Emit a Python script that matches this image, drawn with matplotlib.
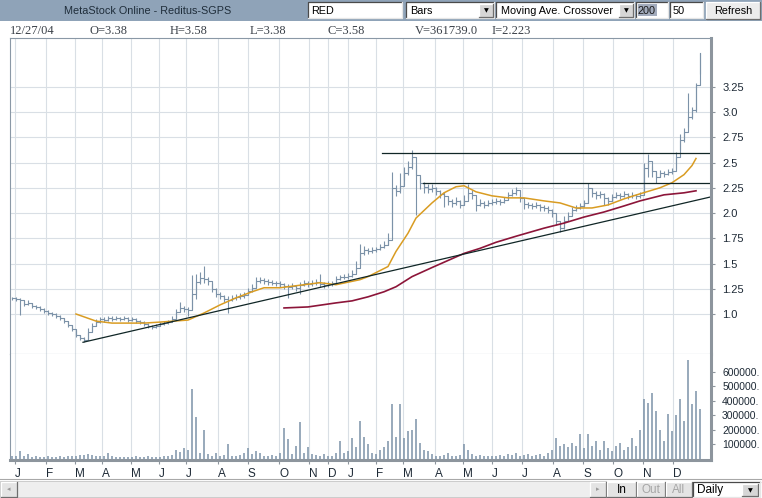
import matplotlib
matplotlib.use('Agg')
import matplotlib.pyplot as plt
from matplotlib.patches import Rectangle

plt.rcParams['font.family'] = ['Liberation Sans', 'DejaVu Sans']

W, H = 762, 498
BAR = '#7C92A8'
GRID = '#D9DFE5'
FRAME = '#8A98A6'
THICK = '#8D959D'
TXT = '#1E2A36'
ORANGE = '#D99C22'
MAROON = '#8C1539'
LINE = '#102626'
UI_FS = 7.8

# daily bars, one sample about every 3 trading days (Jan 2003 - Dec 2004)
close = [
    1.16, 1.15, 1.14, 1.10, 1.11, 1.08, 1.07, 1.05, 1.03, 1.01,
    1.00, 0.98, 0.96, 0.93, 0.89, 0.85, 0.79, 0.76, 0.74, 0.82,
    0.88, 0.92, 0.95, 0.94, 0.96, 0.95, 0.96, 0.95, 0.96, 0.94,
    0.95, 0.93, 0.92, 0.90, 0.88, 0.87, 0.88, 0.90, 0.91, 0.92,
    0.95, 1.02, 1.06, 1.05, 1.04, 1.20, 1.32, 1.36, 1.35, 1.33,
    1.25, 1.20, 1.18, 1.15, 1.14, 1.16, 1.17, 1.18, 1.19, 1.23,
    1.26, 1.33, 1.34, 1.33, 1.32, 1.31, 1.31, 1.30, 1.28, 1.27,
    1.28, 1.26, 1.29, 1.31, 1.30, 1.31, 1.32, 1.30, 1.29, 1.30,
    1.31, 1.35, 1.37, 1.37, 1.38, 1.40, 1.46, 1.60, 1.63, 1.62,
    1.63, 1.64, 1.66, 1.68, 1.73, 2.25, 2.22, 2.27, 2.40, 2.46,
    2.55, 2.38, 2.30, 2.26, 2.24, 2.25, 2.22, 2.19, 2.17, 2.12,
    2.10, 2.12, 2.08, 2.12, 2.20, 2.18, 2.08, 2.10, 2.08, 2.10,
    2.11, 2.12, 2.11, 2.13, 2.18, 2.20, 2.23, 2.15, 2.09, 2.08,
    2.07, 2.08, 2.06, 2.05, 2.03, 2.00, 1.92, 1.85, 1.92, 1.97,
    2.03, 2.05, 2.07, 2.10, 2.25, 2.20, 2.18, 2.19, 2.15, 2.12,
    2.16, 2.18, 2.17, 2.19, 2.17, 2.18, 2.17, 2.18, 2.45, 2.52,
    2.42, 2.36, 2.40, 2.39, 2.41, 2.42, 2.55, 2.72, 2.80, 2.95,
    3.02, 3.27, 3.58]
high = [
    1.17, 1.17, 1.16, 1.13, 1.14, 1.11, 1.09, 1.08, 1.06, 1.04,
    1.02, 1.01, 0.99, 0.96, 0.93, 0.89, 0.84, 0.79, 0.77, 0.86,
    0.91, 0.95, 0.97, 0.97, 0.98, 0.98, 0.98, 0.97, 0.98, 0.97,
    0.97, 0.96, 0.94, 0.93, 0.91, 0.89, 0.90, 0.92, 0.93, 0.94,
    0.98, 1.05, 1.12, 1.08, 1.07, 1.39, 1.40, 1.42, 1.48, 1.37,
    1.31, 1.26, 1.22, 1.19, 1.18, 1.19, 1.20, 1.21, 1.22, 1.26,
    1.30, 1.37, 1.37, 1.36, 1.35, 1.34, 1.33, 1.33, 1.31, 1.30,
    1.31, 1.29, 1.32, 1.34, 1.33, 1.34, 1.35, 1.40, 1.32, 1.33,
    1.33, 1.38, 1.39, 1.40, 1.41, 1.44, 1.52, 1.69, 1.67, 1.65,
    1.66, 1.66, 1.69, 1.72, 1.80, 2.41, 2.28, 2.40, 2.46, 2.52,
    2.62, 2.48, 2.36, 2.31, 2.29, 2.29, 2.26, 2.23, 2.21, 2.16,
    2.14, 2.16, 2.13, 2.18, 2.29, 2.23, 2.13, 2.14, 2.12, 2.13,
    2.14, 2.15, 2.14, 2.16, 2.21, 2.24, 2.26, 2.19, 2.13, 2.11,
    2.10, 2.11, 2.09, 2.08, 2.07, 2.04, 1.98, 1.90, 1.97, 2.01,
    2.06, 2.08, 2.10, 2.13, 2.30, 2.25, 2.22, 2.22, 2.20, 2.16,
    2.19, 2.21, 2.20, 2.22, 2.20, 2.21, 2.19, 2.21, 2.50, 2.58,
    2.47, 2.41, 2.43, 2.42, 2.44, 2.45, 2.60, 2.78, 2.84, 3.19,
    3.05, 3.29, 3.58]
low = [
    1.14, 1.13, 0.99, 1.08, 1.09, 1.06, 1.05, 1.03, 1.01, 0.99,
    0.98, 0.96, 0.94, 0.91, 0.87, 0.83, 0.77, 0.74, 0.72, 0.74,
    0.83, 0.88, 0.91, 0.92, 0.93, 0.93, 0.94, 0.93, 0.94, 0.92,
    0.93, 0.91, 0.90, 0.88, 0.86, 0.85, 0.86, 0.88, 0.89, 0.90,
    0.92, 0.96, 1.03, 1.02, 0.98, 1.05, 1.15, 1.30, 1.31, 1.29,
    1.22, 1.17, 1.15, 1.12, 1.01, 1.13, 1.14, 1.15, 1.16, 1.19,
    1.22, 1.26, 1.31, 1.30, 1.29, 1.29, 1.28, 1.27, 1.25, 1.16,
    1.25, 1.23, 1.20, 1.28, 1.27, 1.28, 1.29, 1.27, 1.26, 1.27,
    1.28, 1.30, 1.34, 1.35, 1.35, 1.37, 1.42, 1.50, 1.58, 1.59,
    1.60, 1.61, 1.63, 1.65, 1.68, 1.83, 2.17, 2.20, 2.33, 2.38,
    2.44, 1.98, 2.24, 2.20, 2.20, 2.21, 2.18, 2.15, 2.06, 2.08,
    2.06, 2.08, 2.05, 2.08, 2.15, 2.14, 2.02, 2.07, 2.05, 2.07,
    2.08, 2.09, 2.08, 2.10, 2.14, 2.17, 2.18, 2.11, 2.04, 2.05,
    2.04, 2.05, 2.02, 2.02, 2.00, 1.96, 1.88, 1.81, 1.84, 1.92,
    1.98, 2.02, 2.04, 2.06, 2.10, 2.16, 2.14, 2.15, 2.08, 2.08,
    2.12, 2.15, 2.14, 2.16, 2.14, 2.15, 2.14, 2.15, 2.20, 2.36,
    2.36, 2.30, 2.36, 2.36, 2.38, 2.39, 2.44, 2.62, 2.70, 2.85,
    2.93, 3.00, 3.38]
# volume in thousands of shares
volume = [
    20, 15, 50, 20, 33, 12, 15, 10, 12, 15,
    10, 12, 15, 12, 15, 18, 20, 25, 22, 30,
    25, 20, 15, 18, 35, 15, 12, 10, 12, 10,
    12, 15, 10, 12, 15, 12, 10, 12, 15, 20,
    25, 60, 45, 70, 60, 480, 288, 40, 197, 30,
    20, 35, 15, 25, 100, 20, 15, 25, 40, 74,
    30, 50, 35, 20, 15, 25, 20, 35, 212, 135,
    30, 90, 253, 40, 80, 30, 25, 20, 30, 15,
    20, 40, 121, 35, 50, 142, 80, 260, 150, 100,
    40, 30, 60, 80, 120, 378, 150, 380, 140, 190,
    200, 274, 110, 60, 50, 30, 20, 15, 25, 40,
    20, 15, 25, 100, 60, 30, 20, 25, 15, 20,
    15, 20, 25, 15, 30, 25, 35, 20, 25, 30,
    20, 25, 30, 20, 40, 60, 142, 90, 100, 80,
    110, 90, 170, 70, 170, 90, 120, 60, 120, 70,
    50, 90, 110, 60, 80, 140, 90, 197, 412, 385,
    455, 330, 200, 120, 308, 190, 300, 412, 260, 685,
    380, 468, 343]

# moving averages (50 and 200 day), read at a few sample positions
ma50_at = [16, 21, 25, 33, 37, 44, 48, 52, 56, 60, 63, 67, 71, 77, 81, 87, 89,
           94, 96, 99, 101, 105, 108, 111, 113, 116, 120, 124, 128, 133, 137,
           141, 145, 149, 153, 157, 162, 165, 168, 170, 171]
ma50 = [1.00, 0.93, 0.91, 0.91, 0.92, 0.94, 1.01, 1.09, 1.16, 1.22, 1.26, 1.26,
        1.28, 1.31, 1.29, 1.34, 1.37, 1.47, 1.62, 1.80, 1.95, 2.10, 2.20, 2.26,
        2.27, 2.21, 2.17, 2.15, 2.15, 2.12, 2.10, 2.05, 2.05, 2.08, 2.14, 2.19,
        2.25, 2.30, 2.38, 2.47, 2.54]
ma200_at = [68, 74, 81, 85, 89, 93, 96, 100, 105, 109, 113, 117, 121, 126, 133,
            138, 143, 148, 153, 157, 163, 168, 171]
ma200 = [1.06, 1.07, 1.11, 1.13, 1.17, 1.22, 1.27, 1.37, 1.46, 1.53, 1.60, 1.65,
         1.71, 1.77, 1.85, 1.90, 1.96, 2.01, 2.07, 2.12, 2.18, 2.20, 2.22]

# drawn trend lines (start/end)
trend_x = [17.75, 174.75]
trend_y = [0.72, 2.16]
resist_hi_x = [92.5, 174.75]
resist_hi_y = [2.59, 2.59]
resist_lo_x = [102.75, 174.75]
resist_lo_y = [2.30, 2.30]

months = list('JFMAMJJASOND') * 2
month_at = [0.75, 8.5, 15.75, 22.5, 29.75, 36.75, 43.5, 51.5, 59.0, 66.75,
            74.25, 79.0, 84.0, 91.0, 97.75, 105.75, 112.75, 120.0, 127.5,
            135.25, 142.75, 150.25, 157.75, 165.25]
price_ticks = [1.0, 1.25, 1.5, 1.75, 2.0, 2.25, 2.5, 2.75, 3.0, 3.25]
price_labels = ['1.0', '1.25', '1.5', '1.75', '2.0', '2.25', '2.5', '2.75', '3.0', '3.25']
vol_ticks = [100, 200, 300, 400, 500, 600]
vol_labels = ['100000.', '200000.', '300000.', '400000.', '500000.', '600000.']

header = ['12/27/04', 'O=3.38', 'H=3.58', 'L=3.38', 'C=3.58', 'V=361739.0', 'I=2.223']


def frac(x0, y0, x1, y1):
    return [x0 / W, 1 - y1 / H, (x1 - x0) / W, (y1 - y0) / H]


fig = plt.figure(figsize=(W / 100, H / 100), dpi=100)
fig.patch.set_facecolor('white')

# ---- window chrome, drawn in pixel coordinates ----
ui = fig.add_axes([0, 0, 1, 1])
ui.set_xlim(0, W)
ui.set_ylim(H, 0)
ui.axis('off')


def sunken(x0, y0, x1, y1, face='white'):
    ui.add_patch(Rectangle((x0, y0), x1 - x0, y1 - y0, facecolor=face, edgecolor='none'))
    ui.plot([x0, x0, x1], [y1, y0, y0], color='#4A4A4A', lw=0.9)
    ui.plot([x0, x1, x1], [y1, y1, y0], color='#E6E6E6', lw=0.9)


def raised(x0, y0, x1, y1, face='#E4E4E4'):
    ui.add_patch(Rectangle((x0, y0), x1 - x0, y1 - y0, facecolor=face, edgecolor='none'))
    ui.plot([x0, x0, x1], [y1, y0, y0], color='white', lw=0.9)
    ui.plot([x0, x1, x1], [y1, y1, y0], color='#6E6E6E', lw=0.9)


def drop_arrow(x0, y0, x1, y1):
    raised(x0, y0, x1, y1, '#D6D6D6')
    ui.text((x0 + x1) / 2, (y0 + y1) / 2 + 0.5, '\u25bc', fontsize=4.5, ha='center',
            va='center', color='black', family='DejaVu Sans')


ui.add_patch(Rectangle((0, 0), W, 21, facecolor='#8FA3B8', edgecolor='none'))
ui.text(148, 11, 'MetaStock Online - Reditus-SGPS', ha='center', va='center',
        fontsize=UI_FS, color='#1F2D3A')

sunken(308, 2, 402, 18)
ui.text(311, 10.5, 'RED', va='center', fontsize=UI_FS, color='black')
sunken(406, 2, 494, 18)
drop_arrow(479, 4, 493, 17)
ui.text(410, 10.5, 'Bars', va='center', fontsize=UI_FS, color='black')
sunken(496, 2, 634, 18)
drop_arrow(619, 4, 633, 17)
ui.text(501, 10.5, 'Moving Ave. Crossover', va='center', fontsize=UI_FS, color='black')
sunken(636, 2, 668, 18)
ui.add_patch(Rectangle((638, 4), 19, 12, facecolor='#A3ACBD', edgecolor='none'))
ui.text(638, 10.5, '200', va='center', fontsize=UI_FS, color='#1A1A1A')
sunken(670, 2, 703, 18)
ui.text(673, 10.5, '50', va='center', fontsize=UI_FS, color='black')
raised(706, 2, 760, 19, '#ECECEC')
ui.text(733, 10.5, 'Refresh', ha='center', va='center', fontsize=UI_FS, color='black')

for s, x in zip(header, [10, 90, 170, 250, 328, 415, 492]):
    ui.text(x, 31, s, va='center', fontsize=9, color='#3A4048', family='Liberation Serif')

# bottom scroll bar and buttons
ui.plot([0, W], [479, 479], color='#A8A8A8', lw=0.8)
ui.add_patch(Rectangle((0, 481), 606, 16, facecolor='#EEEEEE', edgecolor='#C4C4C4', lw=0.6))
raised(1, 482, 17, 497)
ui.text(9, 489.5, '\u25c2', fontsize=5, ha='center', va='center', color='#9A9A9A', family='DejaVu Sans')
raised(590, 482, 606, 497)
ui.text(598, 489.5, '\u25b8', fontsize=5, ha='center', va='center', color='#9A9A9A', family='DejaVu Sans')
raised(607, 482, 636, 497)
ui.text(621.5, 490, 'In', ha='center', va='center', fontsize=8.5, color='black')
raised(637, 482, 665, 497)
ui.text(651, 490, 'Out', ha='center', va='center', fontsize=8.5, color='#A6A6A6')
raised(666, 482, 692, 497)
ui.text(679, 490, 'All', ha='center', va='center', fontsize=8.5, color='#A6A6A6')
sunken(693, 482, 760, 497)
drop_arrow(742, 484, 758, 496)
ui.text(697, 490, 'Daily', va='center', fontsize=8.5, color='black')

# ---- price panel ----
idx = list(range(len(close)))
ax = fig.add_axes(frac(10, 38, 711, 354))
ax.vlines(idx, low, high, color=BAR, lw=0.8)
ax.plot(idx, close, drawstyle='steps-post', color=BAR, lw=0.8)
ax.plot(ma50_at, ma50, color=ORANGE, lw=1.1)
ax.plot(ma200_at, ma200, color=MAROON, lw=1.2)
ax.plot(trend_x, trend_y, color=LINE, lw=0.9)
ax.plot(resist_hi_x, resist_hi_y, color=LINE, lw=0.9)
ax.plot(resist_lo_x, resist_lo_y, color=LINE, lw=0.9)
ax.set_xlim(-0.5, 174.75)
ax.set_ylim(0.604, 3.733)
ax.set_xticks(month_at)
ax.set_yticks(price_ticks)
ax.set_yticklabels(price_labels)
ax.yaxis.tick_right()
ax.tick_params(axis='x', length=0, labelbottom=False)
ax.tick_params(axis='y', length=3, color=THICK, pad=5, labelsize=8, labelcolor=TXT)
ax.grid(True, color=GRID, lw=0.8)
ax.set_axisbelow(True)
for side in ['left', 'top', 'bottom']:
    ax.spines[side].set_color(FRAME)
    ax.spines[side].set_linewidth(0.8)
ax.spines['right'].set_color(THICK)
ax.spines['right'].set_linewidth(2.2)

# ---- volume panel ----
av = fig.add_axes(frac(10, 354, 711, 460))
av.vlines(idx, 0, volume, color=BAR, lw=1.1)
av.set_xlim(-0.5, 174.75)
av.set_ylim(-10.4, 725.6)
av.set_yticks(vol_ticks)
av.set_yticklabels(vol_labels)
av.yaxis.tick_right()
av.set_xticks(month_at)
av.set_xticklabels(months)
for t in av.get_xticklabels():
    t.set_horizontalalignment('left')
av.tick_params(axis='x', length=3, color=THICK, pad=3, labelsize=8.5, labelcolor=TXT)
av.tick_params(axis='y', length=3, color=THICK, pad=5, labelsize=7.5, labelcolor=TXT)
av.grid(True, axis='x', color=GRID, lw=0.8)
av.set_axisbelow(True)
av.spines['top'].set_visible(False)
av.spines['left'].set_color(FRAME)
av.spines['left'].set_linewidth(0.8)
for side in ['right', 'bottom']:
    av.spines[side].set_color(THICK)
    av.spines[side].set_linewidth(2.2)

fig.savefig('out.png', dpi=100, facecolor='white')
